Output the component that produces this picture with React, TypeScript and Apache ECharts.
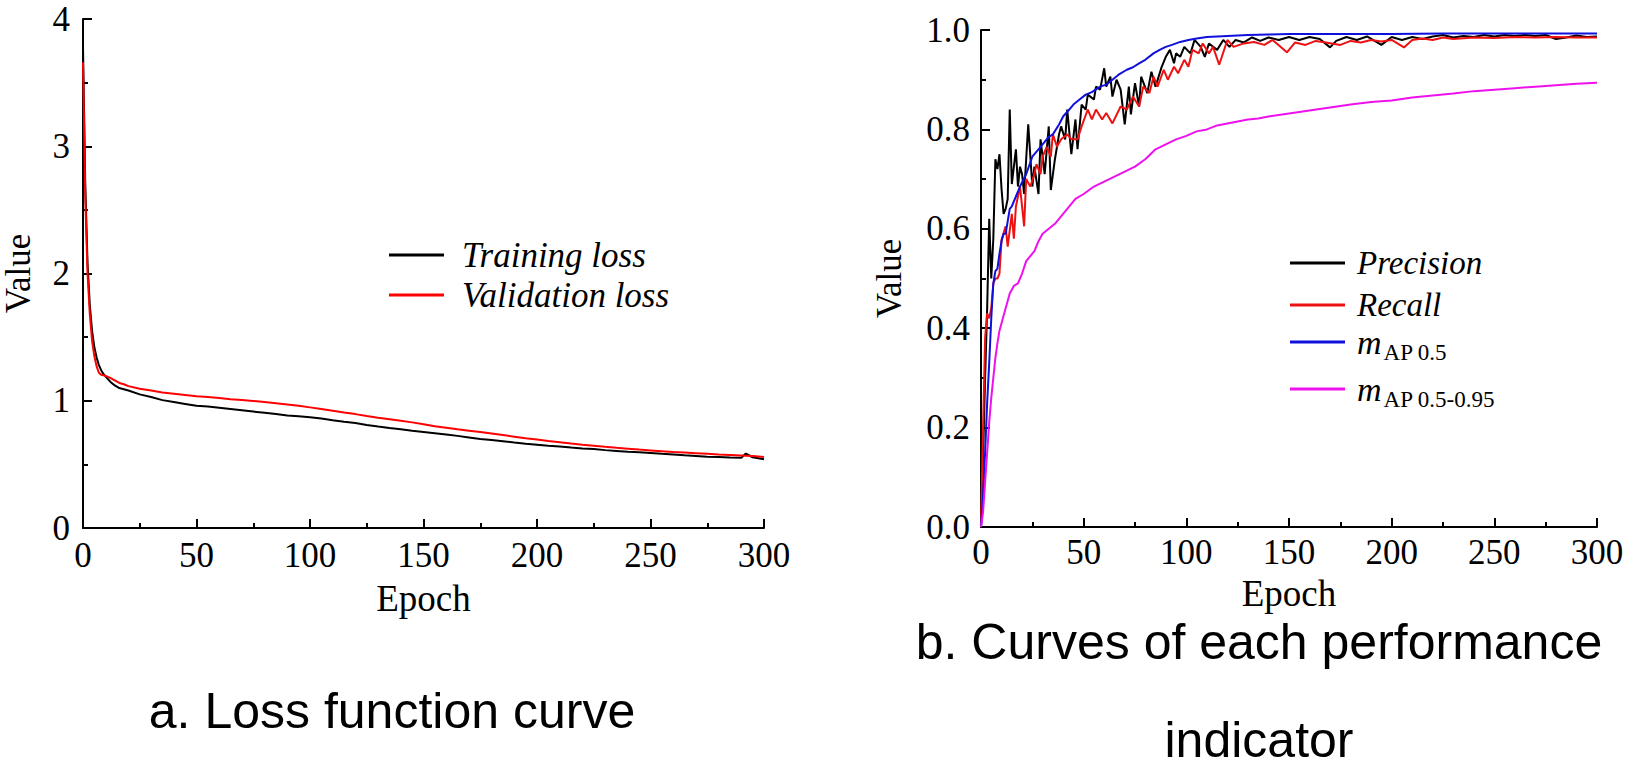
import React, { useEffect, useRef } from "react";
import * as echarts from "echarts";

// ---------- Data: loss chart ----------
const lossEpochs = [0, 1, 2, 3, 4, 5, 6, 7, 8, 9, 10, 12, 14, 16, 18, 20, 25, 30, 35, 40, 45, 50, 55, 60, 65, 70, 75, 80, 85, 90, 95, 100, 105, 110, 115, 120, 125, 130, 135, 140, 145, 150, 155, 160, 165, 170, 175, 180, 185, 190, 195, 200, 205, 210, 215, 220, 225, 230, 235, 240, 245, 250, 255, 260, 265, 270, 275, 280, 285, 290, 292, 295, 300];
const trainingLoss = [3.78, 2.7, 2.08, 1.75, 1.55, 1.42, 1.34, 1.28, 1.24, 1.21, 1.19, 1.15, 1.12, 1.1, 1.09, 1.08, 1.05, 1.03, 1.005, 0.99, 0.975, 0.96, 0.955, 0.945, 0.935, 0.925, 0.915, 0.905, 0.895, 0.885, 0.878, 0.87, 0.86, 0.846, 0.835, 0.825, 0.81, 0.797, 0.786, 0.776, 0.765, 0.755, 0.745, 0.735, 0.724, 0.712, 0.7, 0.692, 0.682, 0.672, 0.663, 0.655, 0.647, 0.64, 0.632, 0.625, 0.62, 0.612, 0.606, 0.6, 0.595, 0.59, 0.583, 0.577, 0.571, 0.566, 0.56, 0.557, 0.554, 0.552, 0.585, 0.556, 0.54];
const validationLoss = [3.66, 2.6, 2.0, 1.68, 1.47, 1.35, 1.27, 1.22, 1.205, 1.2, 1.195, 1.18, 1.16, 1.14, 1.13, 1.115, 1.095, 1.08, 1.065, 1.055, 1.045, 1.035, 1.03, 1.022, 1.012, 1.005, 0.998, 0.99, 0.98, 0.97, 0.96, 0.948, 0.935, 0.922, 0.908, 0.895, 0.88, 0.867, 0.855, 0.843, 0.83, 0.815, 0.8, 0.788, 0.776, 0.765, 0.754, 0.742, 0.73, 0.718, 0.706, 0.695, 0.684, 0.674, 0.664, 0.655, 0.647, 0.638, 0.63, 0.623, 0.616, 0.61, 0.604, 0.598, 0.593, 0.588, 0.583, 0.578, 0.574, 0.57, 0.568, 0.565, 0.558];

// ---------- Data: performance chart ----------
const precisionEpochs = [0, 1, 2, 3, 4, 5, 6, 7, 8, 9, 10, 11, 12, 13, 14, 15, 17, 18, 19, 20, 21, 23, 25, 26, 28, 29, 31, 33, 34, 36, 38, 39, 41, 42, 44, 46, 47, 49, 51, 52, 55, 56, 58, 60, 61, 63, 64, 66, 68, 70, 72, 73, 75, 77, 78, 81, 83, 85, 88, 90, 92, 94, 95, 97, 99, 102, 104, 107, 109, 111, 115, 118, 121, 124, 128, 132, 136, 140, 145, 150, 155, 160, 165, 170, 173, 178, 183, 188, 195, 200, 205, 210, 215, 220, 225, 230, 235, 240, 245, 250, 255, 260, 265, 270, 275, 280, 285, 290, 295, 300];
const precisionValues = [0, 0.14, 0.3, 0.44, 0.62, 0.5, 0.58, 0.74, 0.72, 0.75, 0.68, 0.63, 0.64, 0.66, 0.84, 0.69, 0.76, 0.685, 0.725, 0.71, 0.67, 0.81, 0.685, 0.725, 0.67, 0.78, 0.71, 0.806, 0.678, 0.74, 0.79, 0.806, 0.78, 0.84, 0.75, 0.82, 0.76, 0.85, 0.84, 0.87, 0.86, 0.886, 0.88, 0.923, 0.886, 0.906, 0.866, 0.9, 0.88, 0.81, 0.886, 0.83, 0.893, 0.846, 0.906, 0.873, 0.916, 0.886, 0.926, 0.946, 0.96, 0.933, 0.953, 0.946, 0.966, 0.953, 0.98, 0.966, 0.946, 0.973, 0.96, 0.98, 0.966, 0.98, 0.975, 0.985, 0.978, 0.985, 0.98, 0.986, 0.98, 0.986, 0.982, 0.965, 0.978, 0.986, 0.98, 0.987, 0.97, 0.986, 0.98, 0.986, 0.982, 0.987, 0.99, 0.985, 0.988, 0.986, 0.99, 0.987, 0.99, 0.988, 0.99, 0.988, 0.99, 0.982, 0.985, 0.989, 0.986, 0.987];

const recallEpochs = [0, 1, 2, 3, 4, 5, 6, 7, 8, 9, 10, 12, 13, 15, 16, 17, 19, 21, 22, 24, 26, 27, 29, 30, 32, 34, 35, 37, 39, 42, 44, 47, 49, 52, 54, 56, 59, 61, 64, 68, 71, 74, 77, 79, 82, 84, 86, 89, 91, 94, 96, 99, 101, 103, 106, 108, 111, 113, 116, 120, 123, 128, 133, 138, 142, 149, 153, 158, 163, 168, 175, 180, 185, 190, 195, 200, 206, 210, 215, 220, 225, 230, 240, 250, 260, 270, 280, 290, 300];
const recallValues = [0, 0.2, 0.38, 0.43, 0.42, 0.44, 0.49, 0.5, 0.5, 0.51, 0.578, 0.605, 0.564, 0.63, 0.58, 0.645, 0.685, 0.605, 0.7, 0.685, 0.71, 0.73, 0.71, 0.745, 0.765, 0.745, 0.79, 0.765, 0.78, 0.79, 0.78, 0.78, 0.806, 0.84, 0.82, 0.84, 0.82, 0.833, 0.812, 0.846, 0.84, 0.866, 0.846, 0.886, 0.873, 0.906, 0.886, 0.92, 0.9, 0.926, 0.913, 0.94, 0.926, 0.96, 0.953, 0.973, 0.953, 0.966, 0.93, 0.98, 0.966, 0.973, 0.976, 0.97, 0.98, 0.955, 0.975, 0.97, 0.978, 0.975, 0.97, 0.978, 0.975, 0.98, 0.977, 0.98, 0.965, 0.98, 0.983, 0.98, 0.985, 0.982, 0.985, 0.984, 0.986, 0.985, 0.986, 0.985, 0.985];

const map05Epochs = [0, 1, 2, 3, 4, 5, 6, 7, 8, 9, 10, 11, 12, 13, 14, 15, 17, 19, 22, 25, 28, 30, 33, 35, 38, 40, 43, 45, 48, 51, 54, 58, 61, 64, 67, 71, 74, 77, 80, 84, 87, 90, 93, 97, 101, 105, 110, 115, 120, 130, 140, 150, 175, 200, 225, 250, 275, 300];
const map05Values = [0, 0.06, 0.15, 0.25, 0.33, 0.42, 0.49, 0.515, 0.52, 0.55, 0.575, 0.59, 0.59, 0.615, 0.64, 0.645, 0.665, 0.685, 0.71, 0.745, 0.76, 0.77, 0.785, 0.79, 0.81, 0.826, 0.84, 0.85, 0.86, 0.87, 0.875, 0.886, 0.89, 0.9, 0.91, 0.92, 0.925, 0.933, 0.94, 0.953, 0.96, 0.966, 0.97, 0.976, 0.98, 0.983, 0.986, 0.987, 0.988, 0.99, 0.991, 0.992, 0.992, 0.992, 0.993, 0.993, 0.993, 0.993];

const map0595Epochs = [0, 1, 2, 3, 4, 5, 6, 7, 8, 9, 10, 12, 14, 16, 18, 20, 22, 24, 26, 28, 30, 33, 36, 40, 43, 46, 50, 55, 60, 65, 70, 75, 80, 85, 90, 95, 100, 105, 110, 115, 120, 125, 130, 135, 140, 145, 150, 160, 170, 180, 190, 200, 210, 220, 230, 240, 250, 260, 270, 280, 290, 300];
const map0595Values = [0, 0.03, 0.09, 0.15, 0.21, 0.26, 0.3, 0.34, 0.37, 0.395, 0.41, 0.44, 0.47, 0.485, 0.49, 0.51, 0.535, 0.545, 0.555, 0.575, 0.59, 0.6, 0.61, 0.63, 0.645, 0.66, 0.67, 0.685, 0.695, 0.705, 0.715, 0.725, 0.74, 0.76, 0.77, 0.78, 0.787, 0.796, 0.8, 0.808, 0.812, 0.816, 0.82, 0.822, 0.826, 0.829, 0.832, 0.838, 0.844, 0.85, 0.855, 0.858, 0.864, 0.868, 0.872, 0.877, 0.88, 0.883, 0.886, 0.889, 0.892, 0.894];

const lossYTicks = [0, 1, 2, 3, 4];
const perfYTicks = [0, 0.2, 0.4, 0.6, 0.8, 1.0];
const epochTicks = [0, 50, 100, 150, 200, 250, 300];

const SERIF = '"Liberation Serif", "Times New Roman", serif';
const SANS = '"Liberation Sans", Arial, sans-serif';

const zip = (xs: number[], ys: number[]) => xs.map((x, i) => [x, ys[i]]);

function xAxisCfg(gridIndex: number, nameGap: number, margin: number) {
  return {
    type: "value",
    gridIndex,
    min: epochTicks[0],
    max: epochTicks[epochTicks.length - 1],
    interval: epochTicks[1] - epochTicks[0],
    name: "Epoch",
    nameLocation: "middle",
    nameGap,
    nameTextStyle: { fontFamily: SERIF, fontSize: 37, lineHeight: 37, color: "#000" },
    axisLine: { show: true, onZero: false, lineStyle: { color: "#000", width: 2 } },
    axisTick: { show: true, inside: true, length: 9, lineStyle: { color: "#000", width: 2 } },
    minorTick: { show: true, splitNumber: 2, length: 5, lineStyle: { color: "#000", width: 2 } },
    axisLabel: { fontFamily: SERIF, fontSize: 35, color: "#000", margin },
    splitLine: { show: false },
    minorSplitLine: { show: false },
  };
}

function yAxisCfg(gridIndex: number, ticks: number[], nameGap: number, margin: number, digits: number) {
  return {
    type: "value",
    gridIndex,
    min: ticks[0],
    max: ticks[ticks.length - 1],
    interval: ticks[1] - ticks[0],
    name: "Value",
    nameLocation: "middle",
    nameGap,
    nameTextStyle: { fontFamily: SERIF, fontSize: 35, color: "#000" },
    axisLine: { show: true, onZero: false, lineStyle: { color: "#000", width: 2 } },
    axisTick: { show: true, inside: true, length: 9, lineStyle: { color: "#000", width: 2 } },
    minorTick: { show: true, splitNumber: 2, length: 5, lineStyle: { color: "#000", width: 2 } },
    axisLabel: {
      fontFamily: SERIF,
      fontSize: 35,
      color: "#000",
      margin,
      formatter: (v: number) => v.toFixed(digits),
    },
    splitLine: { show: false },
    minorSplitLine: { show: false },
  };
}

function lineSeries(name: string, data: number[][], color: string, xi: number) {
  return {
    type: "line",
    name,
    xAxisIndex: xi,
    yAxisIndex: xi,
    data,
    showSymbol: false,
    symbol: "none",
    lineStyle: { color, width: 2 },
    itemStyle: { color },
    emphasis: { disabled: true },
  };
}

function legendItem(name: string, left: number, top: number, fontSize: number, gap: number, formatter?: string) {
  const base: any = {
    data: [name],
    left,
    top,
    padding: 0,
    icon: "rect",
    itemWidth: 55,
    itemHeight: 3,
    selectedMode: false,
    textStyle: {
      fontFamily: SERIF,
      fontStyle: "italic",
      fontSize,
      color: "#000",
      lineHeight: 40,
      padding: [0, 0, 0, gap],
    },
  };
  if (formatter) {
    base.formatter = formatter;
    base.textStyle = {
      color: "#000",
      rich: {
        m: { fontFamily: SERIF, fontStyle: "italic", fontSize: 34, lineHeight: 34, verticalAlign: "top", padding: [0, 0, 0, gap], color: "#000" },
        s: { fontFamily: SERIF, fontSize: 23, lineHeight: 23, verticalAlign: "top", padding: [16, 0, 0, 2], color: "#000" },
      },
    };
  }
  return base;
}

export default function App() {
  const ref = useRef<HTMLDivElement>(null);
  useEffect(() => {
    if (!ref.current) return;
    const chart = echarts.init(ref.current, undefined, { renderer: "svg" });
    chart.setOption({
      animation: false,
      backgroundColor: "#fff",
      grid: [
        { left: 82, top: 19, width: 682, height: 509 },
        { left: 981, top: 30, width: 616, height: 497 },
      ],
      xAxis: [xAxisCfg(0, 52, 10), xAxisCfg(1, 44, 8)],
      yAxis: [yAxisCfg(0, lossYTicks, 47, 13, 0), yAxisCfg(1, perfYTicks, 74, 11, 1)],
      legend: [
        legendItem("Training loss", 389, 235, 35, 13),
        legendItem("Validation loss", 389, 275, 35, 13),
        legendItem("Precision", 1290, 243, 33, 7),
        legendItem("Recall", 1290, 285, 33, 7),
        legendItem("mAP 0.5", 1290, 325, 33, 7, "{m|m}{s|AP 0.5}"),
        legendItem("mAP 0.5-0.95", 1290, 372, 33, 7, "{m|m}{s|AP 0.5-0.95}"),
      ],
      series: [
        lineSeries("Training loss", zip(lossEpochs, trainingLoss), "#000000", 0),
        lineSeries("Validation loss", zip(lossEpochs, validationLoss), "#ff0000", 0),
        lineSeries("Precision", zip(precisionEpochs, precisionValues), "#000000", 1),
        lineSeries("Recall", zip(recallEpochs, recallValues), "#ee1111", 1),
        lineSeries("mAP 0.5", zip(map05Epochs, map05Values), "#1010dd", 1),
        lineSeries("mAP 0.5-0.95", zip(map0595Epochs, map0595Values), "#ee11ee", 1),
      ],
      graphic: [
        {
          type: "text",
          x: 392,
          y: 711,
          style: { text: "a. Loss function curve", fontFamily: SANS, fontSize: 50, lineHeight: 38, fill: "#000", align: "center", verticalAlign: "middle" },
        },
        {
          type: "text",
          x: 1259,
          y: 642,
          style: { text: "b. Curves of each performance", fontFamily: SANS, fontSize: 50, lineHeight: 36, fill: "#000", align: "center", verticalAlign: "middle" },
        },
        {
          type: "text",
          x: 1259,
          y: 740,
          style: { text: "indicator", fontFamily: SANS, fontSize: 50, lineHeight: 36, fill: "#000", align: "center", verticalAlign: "middle" },
        },
      ],
    });
    return () => chart.dispose();
  }, []);
  return <div ref={ref} style={{ position: "absolute", left: 0, top: 0, width: 1628, height: 770 }} />;
}
